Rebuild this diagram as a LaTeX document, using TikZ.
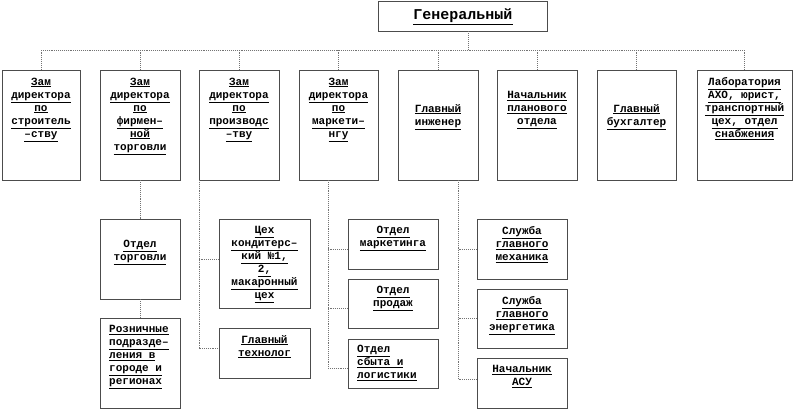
\documentclass[tikz,border=0pt]{standalone}
\usepackage{fontspec}
\newfontfamily\orgfont{Liberation Mono}
\newcommand{\uln}[1]{\underline{#1}}
\tikzset{
  box/.style 2 args={draw=black!70, line width=0.9pt, minimum width=#1, minimum height=#2, inner sep=0pt},
  lbl/.style={font=\orgfont\bfseries\fontsize{11}{13}\selectfont, align=center, inner sep=0pt, anchor=north},
  lbll/.style={lbl, align=left, anchor=north west},
  conn/.style={draw=black!55, densely dotted, line width=0.9pt},
}

\begin{document}
\begin{tikzpicture}[x=1pt, y=-1pt]
\useasboundingbox (0,0) rectangle (800,412);
% director
\node[box={169}{30}] (gd) at (462.5,16) {};
\node[lbl, font=\orgfont\bfseries\fontsize{15}{17}\selectfont] (gd-t) at (463,8.5) {\uln{Генеральный}};
% first level
\node[box={78}{110}] (zs) at (41,125) {};
\node[box={80}{110}] (zf) at (140,125) {};
\node[box={80}{110}] (zp) at (239,125) {};
\node[box={79}{110}] (zm) at (338.5,125) {};
\node[box={80}{110}] (gi) at (438,125) {};
\node[box={80}{110}] (np) at (537,125) {};
\node[box={79}{110}] (gb) at (636.5,125) {};
\node[box={95}{110}] (lab) at (744.5,125) {};
\node[lbl] (zs-t) at (41,77.5) {\uln{Зам}\\\uln{директора}\\\uln{по}\\\uln{строитель}\\\uln{–ству}};
\node[lbl] (zf-t) at (140,77.5) {\uln{Зам}\\\uln{директора}\\\uln{по}\\\uln{фирмен–}\\\uln{ной}\\\uln{торговли}};
\node[lbl] (zp-t) at (239,77.5) {\uln{Зам}\\\uln{директора}\\\uln{по}\\\uln{производс}\\\uln{–тву}};
\node[lbl] (zm-t) at (338.5,77.5) {\uln{Зам}\\\uln{директора}\\\uln{по}\\\uln{маркети–}\\\uln{нгу}};
\node[lbl] (gi-t) at (438,104) {\uln{Главный}\\\uln{инженер}};
\node[lbl] (np-t) at (537,91) {\uln{Начальник}\\\uln{планового}\\\uln{отдела}};
\node[lbl] (gb-t) at (636.5,104) {\uln{Главный}\\\uln{бухгалтер}};
\node[lbl] (lab-t) at (744.5,77.5) {\uln{Лаборатория}\\\uln{АХО, юрист,}\\\uln{транспортный}\\\uln{цех, отдел}\\\uln{снабжения}};
% second level
\node[box={80}{80}] (ot) at (140,259) {};
\node[box={80}{90}] (rp) at (140,363) {};
\node[box={91}{89}] (ck) at (264.5,263.5) {};
\node[box={91}{50}] (gt) at (264.5,353) {};
\node[box={90}{50}] (om) at (393,244) {};
\node[box={90}{49}] (opr) at (393,303.5) {};
\node[box={90}{49}] (os) at (393,363.5) {};
\node[box={90}{60}] (sm) at (522,249) {};
\node[box={90}{59}] (se) at (522,318.5) {};
\node[box={90}{50}] (na) at (522,383) {};
\node[lbl] (ot-t) at (140,240) {\uln{Отдел}\\\uln{торговли}};
\node[lbll] (rp-t) at (109,325) {\uln{Розничные}\\\uln{подразде–}\\\uln{ления в}\\\uln{городе и}\\\uln{регионах}};
\node[lbl] (ck-t) at (264.5,226) {\uln{Цех}\\\uln{кондитерс–}\\\uln{кий №1,}\\\uln{2,}\\\uln{макаронный}\\\uln{цех}};
\node[lbl] (gt-t) at (264.5,335) {\uln{Главный}\\\uln{технолог}};
\node[lbl] (om-t) at (393,226) {\uln{Отдел}\\\uln{маркетинга}};
\node[lbl] (opr-t) at (393,286) {\uln{Отдел}\\\uln{продаж}};
\node[lbll] (os-t) at (357,345) {\uln{Отдел}\\\uln{сбыта и}\\\uln{логистики}};
\node[lbl] (sm-t) at (522,226) {\uln{Служба}\\\uln{главного}\\\uln{механика}};
\node[lbl] (se-t) at (522,296) {\uln{Служба}\\\uln{главного}\\\uln{энергетика}};
\node[lbl] (na-t) at (522,365) {\uln{Начальник}\\\uln{АСУ}};
% connectors
\coordinate (bus) at (468,50);
\coordinate (pcol) at (199,180);
\coordinate (mcol) at (328,180);
\coordinate (icol) at (458,180);
\draw[conn] (bus |- gd.south) -- (bus);
\draw[conn] (zs.north |- bus) -- (lab.north |- bus);
\draw[conn] (zs.north) -- (zs.north |- bus) (zf.north) -- (zf.north |- bus)
  (zp.north) -- (zp.north |- bus) (zm.north) -- (zm.north |- bus)
  (gi.north) -- (gi.north |- bus) (np.north) -- (np.north |- bus)
  (gb.north) -- (gb.north |- bus) (lab.north) -- (lab.north |- bus);
\draw[conn] (zf.south) -- (ot.north);
\draw[conn] (ot.south) -- (rp.north);
\draw[conn] (pcol) |- ([yshift=5pt]gt.west);
\draw[conn] ([yshift=4.5pt]ck.west) -- +(-20,0);
\draw[conn] (mcol) |- ([yshift=-4.5pt]os.west);
\draw[conn] ([yshift=-5pt]om.west) -- +(-20,0);
\draw[conn] ([yshift=-4.5pt]opr.west) -- +(-20,0);
\draw[conn] (icol) |- ([yshift=4pt]na.west);
\draw[conn] (sm.west) -- +(-19,0);
\draw[conn] (se.west) -- +(-19,0);
\end{tikzpicture}
\end{document}
